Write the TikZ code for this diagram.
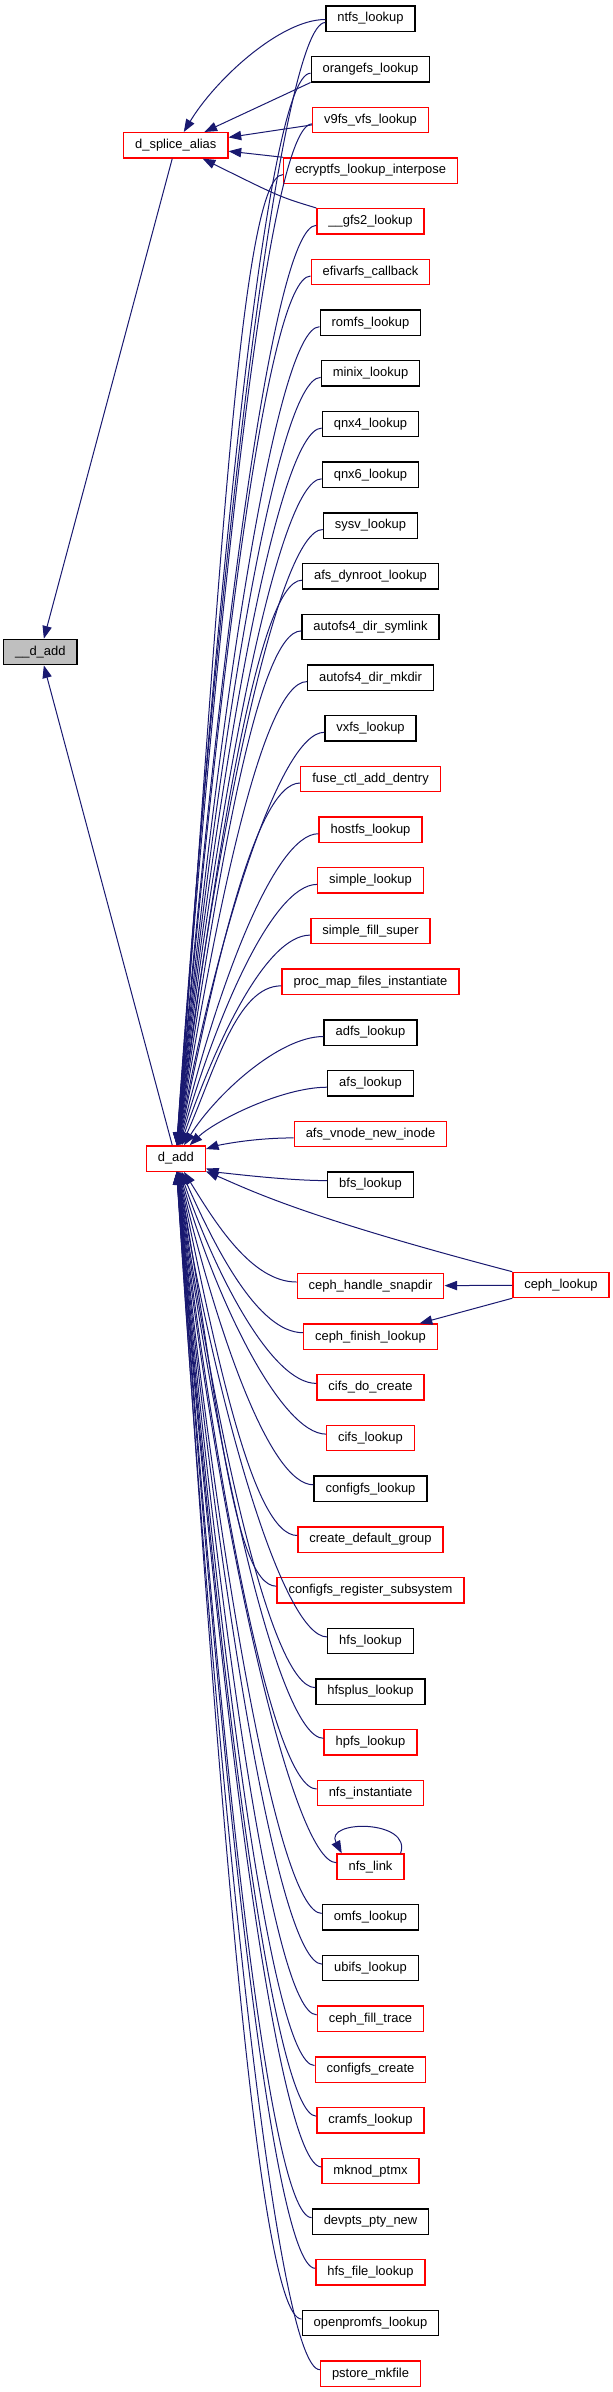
\documentclass[tikz,border=0pt]{standalone}
\usepackage{fontspec}
\setmainfont{Liberation Sans}
\usepackage{xcolor}
\definecolor{callblue}{HTML}{191970}
\usetikzlibrary{arrows.meta,calc}
\tikzset{
  fn/.style   ={rectangle, draw=black, fill=white, line width=1pt, minimum height=19pt,
                inner xsep=8.6pt, inner ysep=2pt, font=\fontsize{9.7}{11}\selectfont},
  fnr/.style  ={fn, draw=red},
  fncur/.style={fn, fill=black!25},
  arr/.style  ={-{Triangle[length=9.5pt,width=7pt]}, draw=callblue, line width=0.75pt},
}
% row/name/label/style of every caller in the right column
\def\callers{0/ntfs/ntfs\_lookup/fn, 1/orangefs/orangefs\_lookup/fn,
  2/vninefs/v9fs\_vfs\_lookup/fnr, 3/ecryptfs/ecryptfs\_lookup\_interpose/fnr,
  4/gfstwo/\_\_gfs2\_lookup/fnr, 5/efivarfs/efivarfs\_callback/fnr,
  6/romfs/romfs\_lookup/fn, 7/minix/minix\_lookup/fn, 8/qnxfour/qnx4\_lookup/fn,
  9/qnxsix/qnx6\_lookup/fn, 10/sysv/sysv\_lookup/fn, 11/afsdyn/afs\_dynroot\_lookup/fn,
  12/autosym/autofs4\_dir\_symlink/fn, 13/automk/autofs4\_dir\_mkdir/fn,
  14/vxfs/vxfs\_lookup/fn, 15/fusectl/fuse\_ctl\_add\_dentry/fnr,
  16/hostfs/hostfs\_lookup/fnr, 17/simplelk/simple\_lookup/fnr,
  18/simplefill/simple\_fill\_super/fnr, 19/procmap/proc\_map\_files\_instantiate/fnr,
  20/adfs/adfs\_lookup/fn, 21/afslk/afs\_lookup/fn, 22/afsvnode/afs\_vnode\_new\_inode/fnr,
  23/bfs/bfs\_lookup/fn, 25/cephsnap/ceph\_handle\_snapdir/fnr,
  26/cephfin/ceph\_finish\_lookup/fnr, 27/cifscreate/cifs\_do\_create/fnr,
  28/cifslk/cifs\_lookup/fnr, 29/cfglk/configfs\_lookup/fn,
  30/cfgdefgrp/create\_default\_group/fnr, 31/cfgreg/configfs\_register\_subsystem/fnr,
  32/hfslk/hfs\_lookup/fn, 33/hfsplus/hfsplus\_lookup/fn, 34/hpfs/hpfs\_lookup/fnr,
  35/nfsinst/nfs\_instantiate/fnr, 36/nfslink/nfs\_link/fnr, 37/omfs/omfs\_lookup/fn,
  38/ubifs/ubifs\_lookup/fn, 39/cephtrace/ceph\_fill\_trace/fnr,
  40/cfgcreate/configfs\_create/fnr, 41/cramfs/cramfs\_lookup/fnr,
  42/mknod/mknod\_ptmx/fnr, 43/devpts/devpts\_pty\_new/fn,
  44/hfsfile/hfs\_file\_lookup/fnr, 45/openprom/openpromfs\_lookup/fn,
  46/pstore/pstore\_mkfile/fnr}

\begin{document}
\begin{tikzpicture}[x=0.75pt, y=-0.75pt]
  \useasboundingbox (0,0) rectangle (613,2392);

  \node[fncur] (ddadd)  at (40.3,652)    {\_\_d\_add};
  \node[fnr]   (dsa)    at (175.8,145.3) {d\_splice\_alias};
  \node[fnr]   (dadd)   at (175.8,1158.5) {d\_add};
  \node[fnr]   (clook)  at (561,1285)    {ceph\_lookup};

  \foreach \i/\nm/\lab/\st in \callers {
    \pgfmathsetmacro\yy{18.5+50.7*\i+23*(\i>35)}
    \node[\st] (\nm) at (370.5,\yy) {\lab};
  }

  % every caller -> d_add
  \foreach \i/\nm/\lab/\st in \callers {
    \pgfmathsetmacro\yy{18.5+50.7*\i+23*(\i>35)}
    \pgfmathsetmacro\sh{ifthenelse(\yy<1158.5,4,-4)}
    \pgfmathsetmacro\ym{(\yy+1158.5)/2}
    \draw[arr] ($(\nm.west)+(0,\sh)$) .. controls +(-45,0) and (215,\ym) .. (dadd);
  }

  % callers of d_splice_alias
  \draw[arr] ($(ntfs.west)+(0,1)$) .. controls +(-45,0) and (215,80) .. (dsa);
  \draw[arr] (orangefs.south west) -- (dsa);
  \draw[arr] ($(vninefs.west)+(0,5)$) -- (dsa);
  \draw[arr] (ecryptfs.north west) -- (dsa);
  \draw[arr] (gfstwo.north west) .. controls (280,197) .. (dsa);

  \draw[arr] (dsa) -- (ddadd);
  \draw[arr] (dadd) -- (ddadd);

  % ceph_lookup
  \draw[arr] (clook.north west) .. controls (300,1216) and (250,1190) .. (dadd);
  \draw[arr] (clook) -- (cephsnap);
  \draw[arr] (clook) -- (cephfin);

  % nfs_link calls itself
  \draw[arr] ([xshift=-3pt]nfslink.north east) .. controls +(12,-34) and +(-18,-34)
    .. ([xshift=4pt]nfslink.north west);
\end{tikzpicture}
\end{document}
